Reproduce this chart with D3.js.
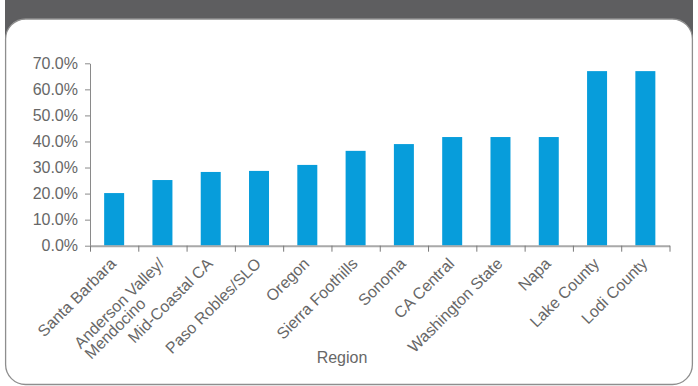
<!DOCTYPE html>
<html>
<head>
<meta charset="utf-8">
<script src="https://cdn.jsdelivr.net/npm/d3@7"></script>
<style>
  body { margin: 0; background: #fff; }
  svg { display: block; }
  text { font-family: "Liberation Sans", Arial, Helvetica, sans-serif; }
</style>
</head>
<body>
<svg id="chart" width="698" height="386"></svg>
<script>
// Share by growing region (percent)
const regions = [
  "Santa Barbara",
  "Anderson Valley/\nMendocino",
  "Mid-Coastal CA",
  "Paso Robles/SLO",
  "Oregon",
  "Sierra Foothills",
  "Sonoma",
  "CA Central",
  "Washington State",
  "Napa",
  "Lake County",
  "Lodi County"
];
const shares = [20.2, 25.2, 28.3, 28.7, 31.0, 36.4, 39.0, 41.7, 41.7, 41.7, 67.0, 67.0];
const yTicks = [0, 10, 20, 30, 40, 50, 60, 70];
const xTitle = "Region";

const svg = d3.select("#chart");
const W = 698, H = 386;

// Card frame: dark header strip behind a rounded white panel
svg.append("rect")
  .attr("x", 5).attr("y", 0).attr("width", 688).attr("height", 50)
  .attr("fill", "#5e5e60");
svg.append("rect")
  .attr("x", 5.6).attr("y", 19).attr("width", 686.8).attr("height", 365.5)
  .attr("rx", 20).attr("ry", 20)
  .attr("fill", "#fff").attr("stroke", "#8e8e8e").attr("stroke-width", 1.3);

const plot = { left: 90, right: 669.5, top: 63.3, bottom: 245.7 };
const textColor = "#676767";

const x = d3.scaleBand().domain(regions).range([plot.left, plot.right]).padding(0);
const y = d3.scaleLinear().domain([0, 70]).range([plot.bottom, plot.top]);
const barW = x.bandwidth() * 0.414;

// Bars
svg.append("g")
  .selectAll("rect")
  .data(regions)
  .join("rect")
  .attr("x", (d) => x(d) + (x.bandwidth() - barW) / 2)
  .attr("width", barW)
  .attr("y", (d, i) => y(shares[i]))
  .attr("height", (d, i) => y(0) - y(shares[i]))
  .attr("fill", "#079ddb");

// Y axis
const yAxis = svg.append("g")
  .attr("transform", `translate(${plot.left},0)`)
  .call(d3.axisLeft(y).tickValues(yTicks)
    .tickFormat((d) => d.toFixed(1) + "%")
    .tickSizeInner(5).tickSizeOuter(0).tickPadding(7));
yAxis.select(".domain").attr("stroke", "#8a8a8a").attr("stroke-width", 1);
yAxis.selectAll(".tick line").attr("stroke", "#8a8a8a");
yAxis.selectAll(".tick text")
  .attr("fill", textColor).attr("font-size", 16);

// X axis: tick marks sit on the category boundaries
const xEdges = d3.scaleLinear().domain([0, regions.length]).range([plot.left, plot.right]);
const xAxis = svg.append("g")
  .attr("transform", `translate(0,${plot.bottom})`)
  .call(d3.axisBottom(xEdges).tickValues(d3.range(regions.length + 1))
    .tickFormat("").tickSizeInner(6).tickSizeOuter(0));
xAxis.select(".domain").attr("stroke", "#a9a9a9").attr("stroke-width", 2);
xAxis.selectAll(".tick line").attr("stroke", "#7a7a7a");

// Rotated category labels; wrapped lines share a common start
const labels = svg.append("g");
regions.forEach((name) => {
  const cx = x(name) + x.bandwidth() / 2;
  const t = labels.append("text")
    .attr("transform", `translate(${cx + 3},${plot.bottom + 19}) rotate(-45)`)
    .attr("fill", textColor).attr("font-size", 16);
  const lines = name.split("\n");
  const spans = lines.map((ln, k) =>
    t.append("tspan").attr("x", 0).attr("dy", k === 0 ? 0 : 15).text(ln));
  const widths = spans.map((s) => s.node().getComputedTextLength());
  const maxW = d3.max(widths);
  spans.forEach((s) => s.attr("x", -maxW).attr("text-anchor", "start"));
});

// Axis title
svg.append("text")
  .attr("x", 342).attr("y", 363)
  .attr("text-anchor", "middle")
  .attr("fill", textColor).attr("font-size", 16)
  .text(xTitle);
</script>
</body>
</html>
